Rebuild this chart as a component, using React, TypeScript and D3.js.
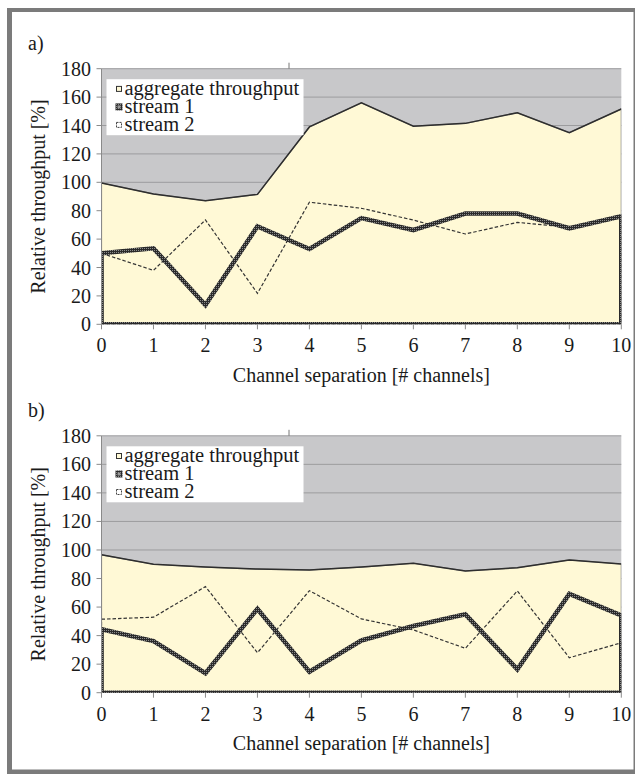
import * as d3 from 'd3';
import React from 'react';

// x positions (channel separation) and y ticks
const channels = [0, 1, 2, 3, 4, 5, 6, 7, 8, 9, 10];
const yTicks = [0, 20, 40, 60, 80, 100, 120, 140, 160, 180];
const seriesNames = ['aggregate throughput', 'stream 1', 'stream 2'];

// panel a)
const aggregateA = [99.5, 91.8, 87, 91.5, 139, 156, 139.5, 141.5, 149, 135, 151.6];
const stream1A = [50, 53.5, 13.6, 69, 53, 74.8, 66.4, 78, 78, 67.6, 76];
const stream2A = [50, 38, 73.5, 21.8, 86, 81.7, 73.4, 63.6, 71.8, 68.3, 76];

// panel b)
const aggregateB = [96.6, 90, 88, 86.6, 86, 88, 90.7, 85.3, 87.6, 93, 90.2];
const stream1B = [44.4, 36.2, 13.6, 58.7, 14.7, 36.6, 46.7, 54.9, 16.4, 69.2, 54.2];
const stream2B = [51.5, 52.9, 74.3, 28, 71.5, 51.7, 44, 31.1, 71.3, 24.5, 35];

const W = 638;
const H = 774;
const FONT = 'Liberation Serif, Times New Roman, DejaVu Serif, serif';

type Panel = {
  id: string;
  label: string;
  top: number;
  bottom: number;
  aggregate: number[];
  stream1: number[];
  stream2: number[];
};

const panels: Panel[] = [
  { id: 'a', label: 'a)', top: 68.7, bottom: 324.3, aggregate: aggregateA, stream1: stream1A, stream2: stream2A },
  { id: 'b', label: 'b)', top: 435.8, bottom: 692.7, aggregate: aggregateB, stream1: stream1B, stream2: stream2B },
];

export default function App() {
  const ref = React.useRef<SVGSVGElement>(null);

  React.useEffect(() => {
    if (!ref.current) return;
    const svg = d3.select(ref.current);
    svg.selectAll('*').remove();

    const defs = svg.append('defs');
    const pat = defs
      .append('pattern')
      .attr('id', 'checker')
      .attr('width', 2)
      .attr('height', 2)
      .attr('patternUnits', 'userSpaceOnUse');
    pat.append('rect').attr('width', 2).attr('height', 2).attr('fill', '#2a2a2a');
    pat.append('rect').attr('width', 1).attr('height', 1).attr('fill', '#8c8c8c');

    // outer frame
    svg.append('rect').attr('x', 7).attr('y', 8).attr('width', 628).attr('height', 766).attr('fill', '#7b7b7b');
    svg.append('rect').attr('x', 12).attr('y', 12).attr('width', 621.5).attr('height', 757.5).attr('fill', '#ffffff');

    const x = d3.scaleLinear().domain([0, 10]).range([101.5, 621.3]);

    panels.forEach((p) => {
      const y = d3.scaleLinear().domain([0, 180]).range([p.bottom, p.top]);
      const g = svg.append('g');
      const [x0, x1] = x.range();

      defs
        .append('clipPath')
        .attr('id', `clip-${p.id}`)
        .append('rect')
        .attr('x', x0)
        .attr('y', p.top)
        .attr('width', x1 - x0)
        .attr('height', p.bottom - p.top);

      // plot background + gridlines
      g.append('rect')
        .attr('x', x0)
        .attr('y', p.top)
        .attr('width', x1 - x0)
        .attr('height', p.bottom - p.top)
        .attr('fill', '#c8c8ca');
      g.selectAll('line.grid')
        .data(yTicks.filter((t) => t > 0))
        .enter()
        .append('line')
        .attr('x1', x0)
        .attr('x2', x1)
        .attr('y1', (d) => y(d))
        .attr('y2', (d) => y(d))
        .attr('stroke', '#9c9c9e')
        .attr('stroke-width', 1);

      const plot = g.append('g').attr('clip-path', `url(#clip-${p.id})`);

      const area = d3
        .area<number>()
        .x((_, i) => x(channels[i]))
        .y0(y(0))
        .y1((d) => y(d));
      const line = d3
        .line<number>()
        .x((_, i) => x(channels[i]))
        .y((d) => y(d));

      plot.append('path').attr('d', area(p.aggregate)).attr('fill', '#fff9d6').attr('stroke', '#888').attr('stroke-width', 1.2);
      plot.append('path').attr('d', line(p.aggregate)).attr('fill', 'none').attr('stroke', '#2e2e2e').attr('stroke-width', 1.5);

      plot.append('path')
        .attr('d', area(p.stream2))
        .attr('fill', 'none')
        .attr('stroke', '#333')
        .attr('stroke-width', 1.2)
        .attr('stroke-dasharray', '3.5,2');

      plot.append('path')
        .attr('d', area(p.stream1))
        .attr('fill', 'none')
        .attr('stroke', 'url(#checker)')
        .attr('stroke-width', 4.6)
        .attr('stroke-linejoin', 'miter');

      // axes
      g.append('line').attr('x1', x0).attr('x2', x0).attr('y1', p.top).attr('y2', p.bottom).attr('stroke', '#8a8a8a');
      g.selectAll('line.yt')
        .data(yTicks)
        .enter()
        .append('line')
        .attr('x1', x0 - 5)
        .attr('x2', x0)
        .attr('y1', (d) => y(d))
        .attr('y2', (d) => y(d))
        .attr('stroke', '#8a8a8a');
      g.selectAll('line.xt')
        .data(channels)
        .enter()
        .append('line')
        .attr('x1', (d) => x(d))
        .attr('x2', (d) => x(d))
        .attr('y1', p.bottom)
        .attr('y2', p.bottom + 5)
        .attr('stroke', '#8a8a8a');
      // stray tick above the plot
      g.append('line').attr('x1', 289).attr('x2', 289).attr('y1', p.top - 6).attr('y2', p.top).attr('stroke', '#777');

      const text = (sel: any) => sel.style('font-family', FONT).style('font-size', '20px').attr('fill', '#1a1a1a');

      g.selectAll('text.yl')
        .data(yTicks)
        .enter()
        .append('text')
        .call(text)
        .attr('x', 91)
        .attr('y', (d) => y(d))
        .attr('dy', '0.35em')
        .attr('text-anchor', 'end')
        .text((d) => d);
      g.selectAll('text.xl')
        .data(channels)
        .enter()
        .append('text')
        .call(text)
        .attr('x', (d) => x(d))
        .attr('y', p.bottom + 28)
        .attr('text-anchor', 'middle')
        .text((d) => d);
      g.append('text')
        .call(text)
        .attr('x', (x0 + x1) / 2)
        .attr('y', p.bottom + 57.5)
        .attr('text-anchor', 'middle')
        .text('Channel separation [# channels]');
      g.append('text')
        .call(text)
        .attr('transform', `translate(45,${(p.top + p.bottom) / 2}) rotate(-90)`)
        .attr('text-anchor', 'middle')
        .text('Relative throughput [%]');
      g.append('text')
        .call(text)
        .attr('x', 28)
        .attr('y', p.top - 19)
        .text(p.label);

      // legend
      const lx = x0 + 5;
      const ly = p.top + 10.5;
      const leg = g.append('g');
      leg.append('rect').attr('x', lx).attr('y', ly).attr('width', 197).attr('height', 56).attr('fill', '#fff');
      seriesNames.forEach((name, i) => {
        const by = ly + 15.7 + i * 18;
        const sq = leg.append('rect').attr('x', lx + 10).attr('y', by - 8.5).attr('width', 5).attr('height', 5);
        if (i === 0) sq.attr('fill', '#fff9d6').attr('stroke', '#333').attr('stroke-width', 1);
        if (i === 1) sq.attr('fill', '#999').attr('stroke', 'url(#checker)').attr('stroke-width', 2);
        if (i === 2) sq.attr('fill', '#fff').attr('stroke', '#444').attr('stroke-width', 1).attr('stroke-dasharray', '2,1');
        leg.append('text')
          .call(text)
          .style('font-size', '20.5px')
          .attr('x', lx + 18)
          .attr('y', by)
          .text(name);
      });
    });
  }, []);

  return <svg ref={ref} width={W} height={H} style={{ position: 'absolute', left: 0, top: 0 }} />;
}
